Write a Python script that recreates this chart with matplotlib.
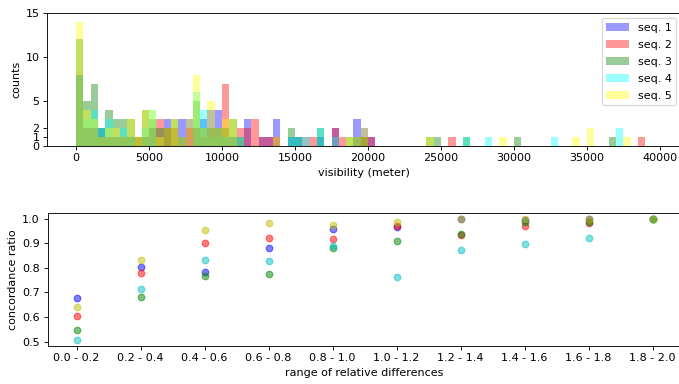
import numpy as np
import matplotlib
matplotlib.use("Agg")
import matplotlib.pyplot as plt
from matplotlib.ticker import MultipleLocator

# ---------------- data ----------------
bin_width = 500
n_bins = 79  # 0 .. 39500 m

series_labels = ["seq. 1", "seq. 2", "seq. 3", "seq. 4", "seq. 5"]
hist_colors = ["blue", "red", "green", "cyan", "yellow"]

# counts per 500 m bin, listed as {bin_index: count}
seq1_counts = {0: 8, 1: 2, 2: 2, 3: 2, 4: 1, 5: 1, 6: 1, 7: 1, 9: 1, 10: 2, 12: 3, 14: 3,
               15: 3, 16: 2, 17: 3, 18: 4, 19: 4, 20: 1, 21: 1, 23: 3, 25: 1, 26: 1,
               27: 3, 29: 1, 30: 1, 33: 1, 35: 2, 38: 3, 39: 2, 40: 1}
seq2_counts = {0: 8, 1: 2, 2: 2, 3: 1, 4: 1, 5: 1, 6: 1, 7: 1, 8: 1, 9: 1, 10: 2, 11: 3,
               12: 2, 13: 2, 15: 2, 16: 2, 17: 1, 18: 1, 19: 1, 20: 7, 21: 1, 22: 2,
               23: 2, 24: 3, 25: 1, 26: 1, 27: 1, 31: 1, 32: 1, 35: 2, 36: 1, 39: 1,
               40: 1, 51: 1, 77: 1}
seq3_counts = {0: 12, 1: 5, 2: 7, 3: 2, 4: 4, 5: 3, 6: 3, 7: 3, 8: 1, 9: 4, 10: 3, 11: 2,
               12: 2, 13: 3, 14: 1, 16: 5, 17: 2, 18: 2, 19: 2, 20: 2, 21: 3, 22: 1,
               29: 2, 30: 1, 33: 2, 37: 1, 38: 1, 39: 1, 48: 1, 49: 1, 53: 1, 60: 1, 73: 1}
seq4_counts = {0: 8, 1: 3, 2: 4, 3: 2, 4: 3, 5: 1, 6: 2, 7: 1, 9: 2, 10: 4, 16: 6, 17: 4,
               18: 1, 19: 1, 20: 1, 21: 1, 22: 1, 29: 1, 30: 1, 31: 1, 33: 2, 35: 1,
               53: 1, 56: 1, 65: 1, 74: 2}
seq5_counts = {0: 14, 1: 4, 2: 3, 3: 1, 4: 2, 5: 2, 6: 1, 7: 3, 8: 1, 9: 4, 10: 4, 11: 1,
               12: 2, 13: 3, 14: 1, 15: 3, 16: 8, 17: 2, 18: 5, 19: 2, 20: 3, 21: 3,
               27: 1, 37: 1, 38: 1, 39: 2, 48: 1, 58: 1, 68: 1, 70: 2, 75: 1}
hist_counts = [seq1_counts, seq2_counts, seq3_counts, seq4_counts, seq5_counts]
hist_yticks = [0, 1, 2, 5, 10, 15]

range_labels = ["0.0 - 0.2", "0.2 - 0.4", "0.4 - 0.6", "0.6 - 0.8", "0.8 - 1.0",
                "1.0 - 1.2", "1.2 - 1.4", "1.4 - 1.6", "1.6 - 1.8", "1.8 - 2.0"]
ratio_seq1 = [0.677, 0.803, 0.785, 0.882, 0.958, 0.965, 1.000, 0.993, 1.000, 1.000]
ratio_seq2 = [0.604, 0.780, 0.903, 0.920, 0.918, 0.969, 0.932, 0.969, 0.981, 1.000]
ratio_seq3 = [0.547, 0.680, 0.766, 0.777, 0.880, 0.911, 0.938, 0.985, 0.986, 1.000]
ratio_seq4 = [0.508, 0.716, 0.833, 0.830, 0.890, 0.764, 0.873, 0.897, 0.920, 1.000]
ratio_seq5 = [0.640, 0.833, 0.955, 0.982, 0.976, 0.986, 1.000, 0.998, 1.000, 1.000]
ratios = [ratio_seq1, ratio_seq2, ratio_seq3, ratio_seq4, ratio_seq5]
scatter_colors = ["b", "r", "g", "c", "y"]

# ---------------- figure ----------------
W, H = 679, 384
dpi = 80
fig = plt.figure(figsize=(W / dpi, H / dpi), dpi=dpi)

ax1 = fig.add_axes([47.3 / W, 1 - 145.7 / H, (681.5 - 47.3) / W, (145.7 - 12.7) / H])
edges = np.arange(n_bins + 1) * bin_width
for counts, col, lab in zip(hist_counts, hist_colors, series_labels):
    w = np.zeros(n_bins)
    for k, v in counts.items():
        w[k] = v
    ax1.hist(edges[:-1], bins=edges, weights=w, color=col, alpha=0.4, label=lab)
ax1.set_ylim(0, 15)
ax1.set_yticks(hist_yticks)
ax1.set_xlabel("visibility (meter)")
ax1.set_ylabel("counts")
ax1.legend(loc="upper right", labelspacing=0.63)

ax2 = fig.add_axes([47.7 / W, 1 - 345.7 / H, (681.5 - 47.7) / W, (345.7 - 212.7) / H])
xpos = np.arange(len(range_labels))
for vals, col in zip(ratios, scatter_colors):
    ax2.scatter(xpos, vals, color=col, alpha=0.5, s=36)
ax2.set_xticks(xpos)
ax2.set_xticklabels(range_labels)
ax2.yaxis.set_major_locator(MultipleLocator(0.1))
ax2.set_xlabel("range of relative differences")
ax2.set_ylabel("concordance ratio")

fig.savefig("out.png", dpi=dpi)
